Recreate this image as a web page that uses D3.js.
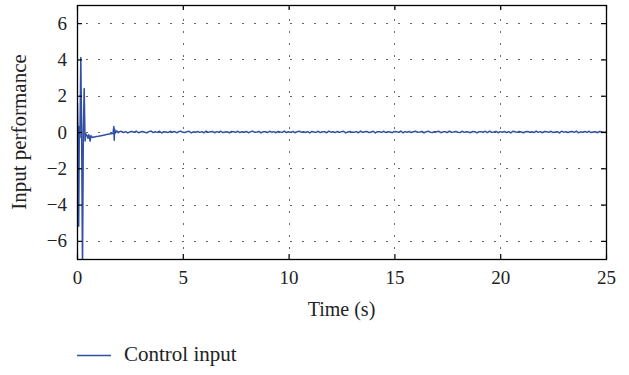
<!DOCTYPE html>
<html>
<head>
<meta charset="utf-8">
<script src="https://cdn.jsdelivr.net/npm/d3@7"></script>
<style>
  body { margin: 0; background: #fff; }
  svg { display: block; font-family: "Liberation Serif", "DejaVu Serif", serif; }
</style>
</head>
<body>
<svg id="chart" width="629" height="375"></svg>
<script>
// --- data ---
var xTicks = [0, 5, 10, 15, 20, 25];
var yTicks = [-6, -4, -2, 0, 2, 4, 6];

// transient part, 0 .. 2 s
var startTimes  = [0, 0.02, 0.05, 0.08, 0.11, 0.14, 0.18, 0.22, 0.26, 0.30, 0.34, 0.38, 0.42, 0.48, 0.52, 0.56, 0.62, 0.66, 0.72, 0.8, 1.0, 1.2, 1.4, 1.6, 1.7, 1.74, 1.76, 1.78, 1.82, 1.88, 1.95, 2.0];
var startValues = [0, 1.6, -0.4, -5.2, 0.3, -0.3, 4.1, -0.2, -7.6, 0.2, 2.4, -0.5, -0.1, -0.2, -0.35, -0.15, -0.5, -0.2, -0.3, -0.28, -0.24, -0.19, -0.14, -0.10, -0.08, 0.3, -0.45, 0.15, -0.05, 0.06, -0.04, 0.02];

// steady part, from 2.1 s every 0.1 s
var tailStart = 2.1, tailStep = 0.1;
var tailValues = [
  0.04,-0.03,0.02,-0.05,0.01,0.03,-0.02,0.05,-0.04,0.00,
  0.03,-0.01,-0.04,0.02,0.05,-0.03,0.01,-0.02,0.04,-0.05,
  0.02,0.00,-0.03,0.04,-0.01,0.03,-0.04,0.01,0.05,-0.02,
  -0.03,0.02,0.04,-0.05,0.01,-0.01,0.03,-0.02,0.02,-0.04,
  0.05,-0.02,0.01,0.03,-0.04,0.02,-0.01,0.04,-0.03,0.00,
  0.02,-0.05,0.03,0.01,-0.02,0.04,-0.03,0.02,-0.01,0.03,
  -0.04,0.01,0.05,-0.02,0.00,0.03,-0.05,0.02,0.01,-0.03,
  0.04,-0.01,0.02,-0.04,0.03,0.00,-0.02,0.05,-0.03,0.01,
  -0.02,0.03,-0.04,0.02,0.04,-0.01,0.01,-0.03,0.02,-0.05,
  0.03,0.00,-0.02,0.04,-0.03,0.01,0.02,-0.04,0.05,-0.01,
  0.01,-0.03,0.03,-0.02,0.02,0.04,-0.05,0.00,0.03,-0.02,
  -0.01,0.02,-0.04,0.05,-0.02,0.01,0.03,-0.03,0.00,0.04,
  -0.05,0.02,0.01,-0.02,0.04,-0.03,0.02,0.00,-0.04,0.03,
  0.01,-0.02,0.05,-0.04,0.02,-0.01,0.03,-0.03,0.01,0.04,
  -0.02,0.00,0.03,-0.05,0.02,0.04,-0.01,-0.03,0.02,0.01,
  0.04,-0.04,0.01,0.02,-0.03,0.05,-0.02,0.00,0.03,-0.01,
  -0.03,0.04,-0.02,0.01,0.00,-0.04,0.03,0.02,-0.05,0.02,
  0.01,-0.01,0.04,-0.03,0.05,-0.02,0.00,0.03,-0.04,0.02,
  -0.01,0.03,-0.03,0.02,-0.05,0.04,0.01,-0.02,0.03,0.00,
  -0.04,0.02,0.03,-0.01,0.01,-0.03,0.05,-0.02,0.02,-0.04,
  0.03,0.01,-0.02,0.04,-0.03,0.00,0.02,-0.05,0.04,-0.01,
  0.02,-0.03,0.01,0.03,-0.02,0.05,-0.04,0.01,-0.01,0.03,
  -0.02,0.04,-0.03,0.00,0.02,-0.04,0.03,0.01,-0.02,0.00
];

var seriesName = "Control input";
var xLabel = "Time (s)";
var yLabel = "Input performance";

// --- layout --- (no "top" here: window.top is read-only)
var pL = 77, pR = 606, pT = 5, pB = 259;
var lineColor = "#3150a5";

var pts = [];
for (var i = 0; i < startTimes.length; i++) pts.push([startTimes[i], startValues[i]]);
for (var j = 0; j < tailValues.length; j++) pts.push([tailStart + j * tailStep, tailValues[j]]);

var svg = d3.select("#chart");
var x = d3.scaleLinear().domain([0, 25]).range([pL, pR]);
var y = d3.scaleLinear().domain([-7, 7]).range([pB, pT]);

// grid (dotted)
var grid = svg.append("g").attr("stroke", "#666").attr("stroke-width", 1).attr("stroke-dasharray", "2,10");
grid.selectAll("line.gx").data(xTicks.filter(function(d){ return d > 0 && d < 25; }))
  .enter().append("line")
  .attr("x1", function(d){ return Math.round(x(d)) + 0.5; })
  .attr("x2", function(d){ return Math.round(x(d)) + 0.5; })
  .attr("y1", pT + 2).attr("y2", pB);
grid.selectAll("line.gy").data(yTicks)
  .enter().append("line")
  .attr("y1", function(d){ return Math.round(y(d)) + 0.5; })
  .attr("y2", function(d){ return Math.round(y(d)) + 0.5; })
  .attr("x1", pL + 9).attr("x2", pR);

// data line
svg.append("clipPath").attr("id", "clip")
  .append("rect").attr("x", pL).attr("y", pT).attr("width", pR - pL).attr("height", pB - pT);

svg.append("path")
  .datum(pts)
  .attr("clip-path", "url(#clip)")
  .attr("fill", "none")
  .attr("stroke", lineColor)
  .attr("stroke-width", 1.5)
  .attr("stroke-linejoin", "round")
  .attr("d", d3.line().x(function(d){ return x(d[0]); }).y(function(d){ return y(d[1]); }));

// axes: ticks inside on all four sides
var tk = 5;
svg.append("g").attr("transform", "translate(0," + pB + ")")
  .call(d3.axisBottom(x).tickValues(xTicks).tickSizeInner(-tk).tickSizeOuter(0).tickPadding(12))
  .call(function(g){ g.select(".domain").remove(); });
svg.append("g").attr("transform", "translate(0," + pT + ")")
  .call(d3.axisTop(x).tickValues(xTicks).tickSizeInner(-tk).tickSizeOuter(0).tickFormat(""))
  .call(function(g){ g.select(".domain").remove(); });
svg.append("g").attr("transform", "translate(" + pL + ",0)")
  .call(d3.axisLeft(y).tickValues(yTicks).tickSizeInner(-tk).tickSizeOuter(0).tickPadding(10)
    .tickFormat(function(d){ return d < 0 ? "\u2212" + Math.abs(d) : d; }))
  .call(function(g){ g.select(".domain").remove(); });
svg.append("g").attr("transform", "translate(" + pR + ",0)")
  .call(d3.axisRight(y).tickValues(yTicks).tickSizeInner(-tk).tickSizeOuter(0).tickFormat(""))
  .call(function(g){ g.select(".domain").remove(); });

svg.selectAll(".tick line").attr("stroke", "#000").attr("stroke-width", 1.2);
svg.selectAll(".tick text").attr("font-family", "Liberation Serif").attr("font-size", 19).attr("fill", "#222");

// frame
svg.append("rect")
  .attr("x", pL + 0.5).attr("y", pT + 0.5)
  .attr("width", pR - pL).attr("height", pB - pT)
  .attr("fill", "none").attr("stroke", "#000").attr("stroke-width", 1.3);

// labels
svg.append("text").attr("x", (pL + pR) / 2).attr("y", 316)
  .attr("text-anchor", "middle").attr("font-size", 20).attr("fill", "#222").text(xLabel);
svg.append("text").attr("transform", "translate(26," + (pT + pB) / 2 + ") rotate(-90)")
  .attr("text-anchor", "middle").attr("font-size", 21).attr("fill", "#222").text(yLabel);

// legend
svg.append("line").attr("x1", 77).attr("x2", 111).attr("y1", 355.5).attr("y2", 355.5)
  .attr("stroke", lineColor).attr("stroke-width", 1.3);
svg.append("text").attr("x", 124).attr("y", 361).attr("font-size", 21).attr("fill", "#222").text(seriesName);
</script>
</body>
</html>
